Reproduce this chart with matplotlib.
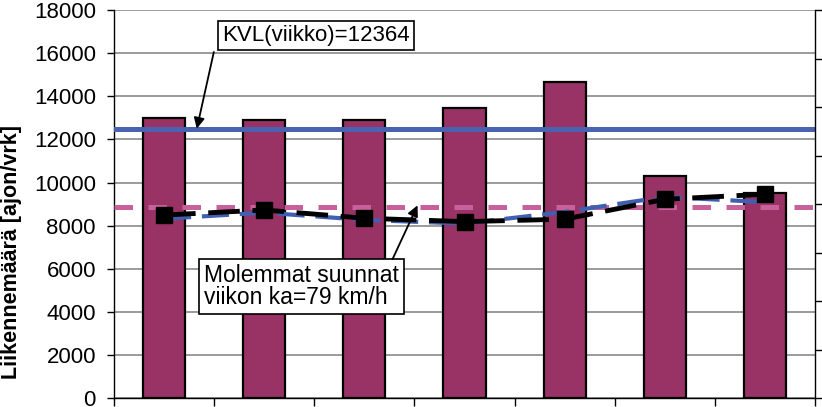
import matplotlib.pyplot as plt
import numpy as np

plt.rcParams['font.family'] = ['Liberation Sans', 'DejaVu Sans']

# liikennemäärät päivittäin [ajon/vrk] ja nopeudet [km/h]
liikenne = [12980, 12900, 12900, 13470, 14660, 10300, 9500]
nopeus_molemmat = [75.5, 77.6, 74.2, 72.8, 73.8, 82.0, 84.1]
nopeus_toinen = [74.0, 76.5, 73.5, 72.0, 76.8, 83.0, 80.8]
kvl_taso = 12500          # viiva kuvassa
kvl_teksti = "KVL(viikko)=12364"
ka_nopeus = 79
ka_teksti = "Molemmat suunnat\nviikon ka=79 km/h"

x = np.arange(len(liikenne))

fig = plt.figure(figsize=(8.22, 4.07), dpi=100)
ax = fig.add_axes([114/822, 8.7/407, 701/822, 388.3/407])

ax.bar(x, liikenne, width=0.42, color="#993366", edgecolor="black", linewidth=1.6, zorder=2)
ax.axhline(kvl_taso, color="#4a63b0", lw=3.6, zorder=3)

ax.set_xlim(-0.5, len(liikenne) - 0.5)
ax.set_ylim(0, 18000)
ax.set_yticks(range(0, 18001, 2000))
ax.set_xticks(np.arange(-0.5, len(liikenne), 1))
ax.set_xticklabels([])
ax.yaxis.grid(True, color="#808080", lw=1.1)
ax.set_axisbelow(True)
ax.tick_params(axis="y", direction="out", length=5, width=1, pad=8, labelsize=16)
ax.tick_params(axis="x", direction="out", length=6, width=1)
for s in ["top", "right"]:
    ax.spines[s].set_visible(False)
ax.spines["left"].set_linewidth(1)
ax.spines["bottom"].set_linewidth(1)

fig.text(1/822, 0.382, "Liikennemäärä [ajon/vrk]", rotation=90, ha="left", va="center",
         fontsize=15.5, fontweight="bold")

# nopeudet toisella akselilla
ax2 = ax.twinx()
ax2.set_ylim(0, 160)
ax2.set_yticks(range(0, 161, 20))
ax2.tick_params(axis="y", direction="out", length=6, width=1, labelright=False)
for s in ["top", "left", "bottom"]:
    ax2.spines[s].set_visible(False)
ax2.spines["right"].set_linewidth(1)

ax2.axhline(ka_nopeus, color="#c8609c", lw=3.6, dashes=(3.7, 3.1))
ax2.plot(x, nopeus_toinen, color="#3f5fb0", lw=3.0, dashes=(6.5, 2.6))
ax2.plot(x, nopeus_molemmat, color="black", lw=3.5, dashes=(6.5, 2.6),
         marker="s", ms=12, mfc="black", mec="black")

laatikko = dict(boxstyle="square,pad=0.18", fc="white", ec="black", lw=1.2)
nuoli = dict(arrowstyle="-|>", color="black", lw=1.3, mutation_scale=16, shrinkA=0, shrinkB=0)

ax2.text(1.514, 16827, kvl_teksti, transform=ax.transData, ha="center", va="center",
         fontsize=16, bbox=laatikko, zorder=5)
ax2.annotate("", xy=(0.327, kvl_taso), xycoords=ax.transData,
             xytext=(0.497, 16053), textcoords=ax.transData, arrowprops=nuoli, zorder=5)

ax2.text(1.371, 45.9, ka_teksti, ha="center", va="center", multialignment="left",
         fontsize=16.5, linespacing=0.95,
         bbox=dict(laatikko, boxstyle="square,pad=0.22"), zorder=5)
ax2.annotate("", xy=(2.531, ka_nopeus + 0.5), xytext=(2.282, 57.4), arrowprops=nuoli, zorder=5)

plt.savefig("out.png", dpi=100)
